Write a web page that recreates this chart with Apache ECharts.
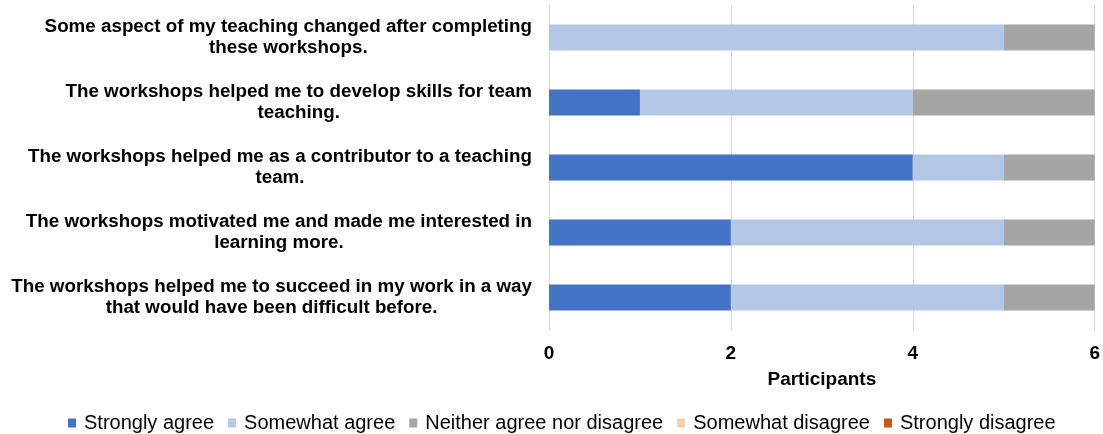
<!DOCTYPE html>
<html>
<head>
<meta charset="utf-8">
<script src="https://cdn.jsdelivr.net/npm/echarts@6/dist/echarts.min.js"></script>
<style>html,body{margin:0;padding:0;background:#fff}#c{width:1103px;height:434px}</style>
</head>
<body>
<div id="c"></div>
<script>
const categories = [
  "Some aspect of my teaching changed after completing\nthese workshops.",
  "The workshops helped me to develop skills for team\nteaching.",
  "The workshops helped me as a contributor to a teaching\nteam.",
  "The workshops motivated me and made me interested in\nlearning more.",
  "The workshops helped me to succeed in my work in a way\nthat would have been difficult before."
];
const seriesNames = ["Strongly agree", "Somewhat agree", "Neither agree nor disagree", "Somewhat disagree", "Strongly disagree"];
const stronglyAgree = [0, 1, 4, 2, 2];
const somewhatAgree = [5, 3, 1, 3, 3];
const neither = [1, 2, 1, 1, 1];
const somewhatDisagree = [0, 0, 0, 0, 0];
const stronglyDisagree = [0, 0, 0, 0, 0];
const colors = ["#4472C4", "#B4C7E7", "#A5A5A5", "#F8CBAD", "#C55A11"];
const values = [stronglyAgree, somewhatAgree, neither, somewhatDisagree, stronglyDisagree];

const chart = echarts.init(document.getElementById('c'));
chart.setOption({
  animation: false,
  textStyle: { fontFamily: 'Liberation Sans, Arial, sans-serif' },
  grid: { left: 549, right: 7, top: 5, bottom: 104, containLabel: false },
  legend: {
    top: 408,
    left: 63,
    padding: 5,
    itemWidth: 8,
    itemHeight: 9,
    itemGap: 14,
    icon: 'rect',
    textStyle: { fontSize: 20, color: '#000', fontFamily: 'Liberation Sans, Arial, sans-serif', padding: [0, 0, 0, 3] },
    data: seriesNames
  },
  xAxis: {
    type: 'value', min: 0, max: 6, interval: 2,
    name: 'Participants', nameLocation: 'middle', nameGap: 40,
    nameTextStyle: { fontSize: 19, fontWeight: 'bold', color: '#000' },
    axisLine: { show: false }, axisTick: { show: false },
    axisLabel: { fontSize: 19, fontWeight: 'bold', color: '#000', margin: 14 },
    splitLine: { lineStyle: { color: '#d9d9d9', width: 1 } }
  },
  yAxis: {
    type: 'category', inverse: true, data: categories,
    axisLine: { show: true, lineStyle: { color: '#d9d9d9' } },
    axisTick: { show: false },
    axisLabel: {
      margin: 17,
      formatter: function (v) { return v.split('\n').map(s => '{a|' + s + '}').join('\n'); },
      rich: { a: { fontSize: 18.8, fontWeight: 'bold', color: '#000', align: 'center', lineHeight: 21, fontFamily: 'Liberation Sans, Arial, sans-serif' } }
    }
  },
  series: seriesNames.map((n, i) => ({
    name: n, type: 'bar', stack: 'total', data: values[i],
    barWidth: 26, itemStyle: { color: colors[i] }
  }))
});
</script>
</body>
</html>
